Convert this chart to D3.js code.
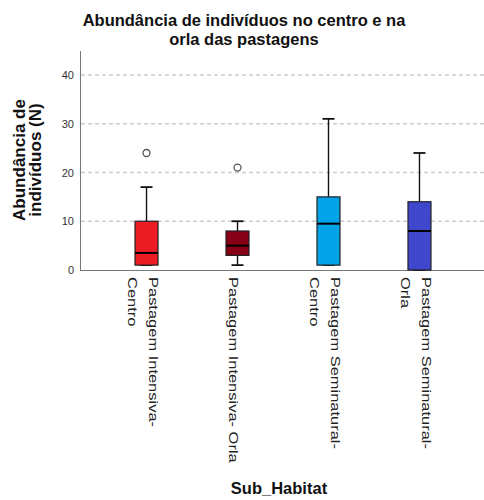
<!DOCTYPE html>
<html>
<head>
<meta charset="utf-8">
<script src="https://cdn.jsdelivr.net/npm/d3@7"></script>
<style>
  body { margin: 0; background: #fff; }
  text { font-family: "Liberation Sans", Arial, sans-serif; }
</style>
</head>
<body>
<div id="chart-area"></div>
<script>
// categories and their label lines
var categories = ["Pastagem Intensiva- Centro", "Pastagem Intensiva- Orla",
                  "Pastagem Seminatural- Centro", "Pastagem Seminatural- Orla"];
var labelLines = [["Pastagem Intensiva-", "Centro"], ["Pastagem Intensiva- Orla"],
                  ["Pastagem Seminatural-", "Centro"], ["Pastagem Seminatural-", "Orla"]];

// box plot values
var whiskerLow = [1, 1, 1, 0];
var q1 = [1, 3, 1, 0];
var median = [3.5, 5, 9.5, 8];
var q3 = [10, 8, 15, 14];
var whiskerHigh = [17, 10, 31, 24];
var outliers = [[24], [21], [], []];
var colors = ["#ED1C24", "#880015", "#00A2E8", "#3F48CC"];
var yTicks = [0, 10, 20, 30, 40];

var width = 484, height = 500;

var svg = d3.select("#chart-area")
    .append("svg")
        .attr("width", width)
        .attr("height", height);

var x = d3.scaleBand()
    .domain(categories)
    .range([80, 486])
    .paddingInner(0)
    .paddingOuter(0.231);

var y = d3.scaleLinear()
    .domain([0, 45])
    .range([270, 50.6]);

var boxW = 23, capW = 12;

// title
var title = svg.append("text")
    .attr("text-anchor", "middle")
    .attr("font-size", "16.5px")
    .attr("font-weight", "bold")
    .attr("fill", "#111");
title.append("tspan").attr("x", 244).attr("y", 26).text("Abundância de indivíduos no centro e na");
title.append("tspan").attr("x", 244).attr("y", 44.5).text("orla das pastagens");

// gridlines
svg.append("g")
    .selectAll("line")
    .data(yTicks.filter(d => d > 0))
    .enter()
    .append("line")
        .attr("x1", 81)
        .attr("x2", 484)
        .attr("y1", d => y(d))
        .attr("y2", d => y(d))
        .attr("stroke", "#cccccc")
        .attr("stroke-width", 1.3)
        .attr("stroke-dasharray", "4,3");

// y axis
var yAxisCall = d3.axisLeft(y)
    .tickValues(yTicks)
    .tickSize(0)
    .tickPadding(6);
var yAxis = svg.append("g")
    .attr("transform", "translate(80,0)")
    .call(yAxisCall);
yAxis.select(".domain").attr("stroke", "#777");
yAxis.selectAll("text")
    .attr("font-size", "11px")
    .attr("fill", "#333")
    .style("font-family", "Liberation Sans, Arial, sans-serif");

// x axis
var xAxisCall = d3.axisBottom(x).tickSize(0).tickFormat("");
var xAxis = svg.append("g")
    .attr("transform", "translate(0,270)")
    .call(xAxisCall);
xAxis.select(".domain").attr("d", "M80,0.5H484").attr("stroke", "#777");

// x tick labels, rotated and wrapped
categories.forEach((c, i) => {
    var lines = labelLines[i];
    var cx = x(c) + x.bandwidth() / 2;
    var t = svg.append("text")
        .attr("transform", "translate(" + cx + ",277) rotate(90) scale(1.22,1)")
        .attr("font-size", "13.5px")
        .attr("fill", "#222");
    lines.forEach((l, j) => {
        t.append("tspan")
            .attr("x", 0)
            .attr("y", 8 - (lines.length - 1) * 10.85 + j * 21.7)
            .text(l);
    });
});

// boxes
var boxes = svg.append("g")
    .selectAll("g")
    .data(categories)
    .enter()
    .append("g")
        .attr("transform", d => "translate(" + (x(d) + x.bandwidth() / 2) + ",0)");

boxes.append("line")
    .attr("x1", 0).attr("x2", 0)
    .attr("y1", (d, i) => y(whiskerHigh[i]))
    .attr("y2", (d, i) => y(q3[i]))
    .attr("stroke", "#111").attr("stroke-width", 1.4);
boxes.append("line")
    .attr("x1", 0).attr("x2", 0)
    .attr("y1", (d, i) => y(q1[i]))
    .attr("y2", (d, i) => y(whiskerLow[i]))
    .attr("stroke", "#111").attr("stroke-width", 1.4);
boxes.append("line")
    .attr("x1", -capW / 2).attr("x2", capW / 2)
    .attr("y1", (d, i) => y(whiskerHigh[i]))
    .attr("y2", (d, i) => y(whiskerHigh[i]))
    .attr("stroke", "#111").attr("stroke-width", 1.8);
boxes.append("line")
    .attr("x1", -capW / 2).attr("x2", capW / 2)
    .attr("y1", (d, i) => y(whiskerLow[i]))
    .attr("y2", (d, i) => y(whiskerLow[i]))
    .attr("stroke", "#111").attr("stroke-width", 1.8);

boxes.append("rect")
    .attr("x", -boxW / 2)
    .attr("width", boxW)
    .attr("y", (d, i) => y(q3[i]))
    .attr("height", (d, i) => y(q1[i]) - y(q3[i]))
    .attr("fill", (d, i) => colors[i])
    .attr("stroke", "#222")
    .attr("stroke-width", 1.2);

boxes.append("line")
    .attr("x1", -boxW / 2).attr("x2", boxW / 2)
    .attr("y1", (d, i) => y(median[i]))
    .attr("y2", (d, i) => y(median[i]))
    .attr("stroke", "#000").attr("stroke-width", 2);

boxes.selectAll("circle")
    .data((d, i) => outliers[i])
    .enter()
    .append("circle")
        .attr("cx", 0)
        .attr("cy", d => y(d))
        .attr("r", 3.5)
        .attr("fill", "#fff")
        .attr("stroke", "#555")
        .attr("stroke-width", 1.3);

// axis titles
svg.append("text")
    .attr("x", 279)
    .attr("y", 494)
    .attr("text-anchor", "middle")
    .attr("font-size", "16.5px")
    .attr("font-weight", "bold")
    .attr("fill", "#111")
    .text("Sub_Habitat");

var yTitle = svg.append("text")
    .attr("transform", "translate(0,160) rotate(-90)")
    .attr("text-anchor", "middle")
    .attr("font-size", "17px")
    .attr("font-weight", "bold")
    .attr("fill", "#111");
yTitle.append("tspan").attr("x", 0).attr("y", 25).text("Abundância de");
yTitle.append("tspan").attr("x", 0).attr("y", 41).text("indivíduos (N)");
</script>
</body>
</html>
